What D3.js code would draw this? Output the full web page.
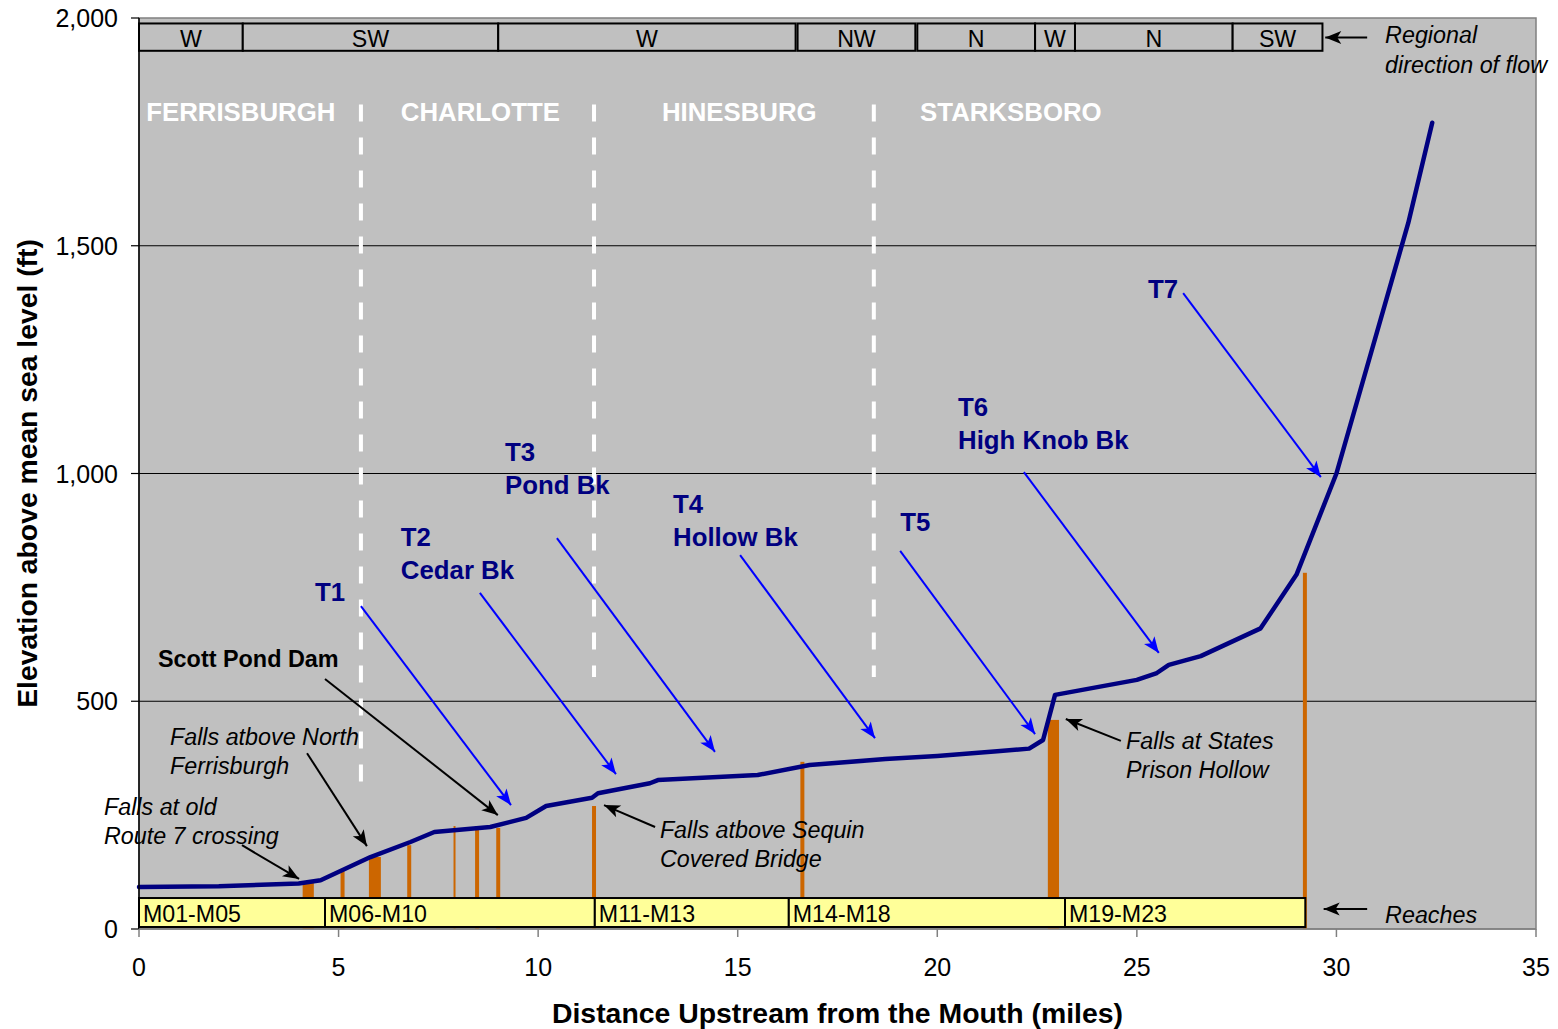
<!DOCTYPE html>
<html>
<head>
<meta charset="utf-8">
<script src="https://cdn.jsdelivr.net/npm/d3@7"></script>
<style>
  body { margin: 0; background: #fff; }
  svg text { font-family: "Liberation Sans", Arial, sans-serif; }
</style>
</head>
<body>
<svg id="chart" width="1558" height="1029"></svg>
<script>
// ---- Data -------------------------------------------------------------
const xTicks = [0, 5, 10, 15, 20, 25, 30, 35];
const yTicks = [0, 500, 1000, 1500, 2000];

// Main-stem longitudinal profile: distance upstream (mi) vs. elevation (ft)
const profileMiles = [0, 2.0, 4.0, 4.55, 5.8, 6.8, 7.4, 8.8, 9.7, 10.2, 11.35, 11.5, 12.8, 13.0,
  15.5, 16.8, 18.7, 20.0, 21.5, 22.3, 22.65, 22.95, 25.0, 25.5, 25.8, 26.6, 28.1, 29.0, 30.0, 31.8, 32.4];
const profileFeet = [92, 94, 100, 107, 158, 191, 213, 224, 244, 270, 288, 298, 320, 327,
  338, 360, 373, 380, 390, 396, 415, 514, 547, 562, 580, 599, 660, 778, 1000, 1550, 1770];

// Falls / grade controls: extent along the channel (mi) and crest elevation (ft)
const fallsFrom = [4.10, 5.05, 5.76, 6.72, 7.88, 8.42, 8.95, 11.35, 16.57, 22.77, 29.16];
const fallsTo   = [4.38, 5.15, 6.06, 6.82, 7.93, 8.52, 9.05, 11.45, 16.67, 23.05, 29.26];
const fallsFeet = [103, 127, 158, 184, 226, 226, 222, 270, 367, 459, 782];

// Reach groups along the river
const reachBreaks = [0, 4.66, 11.42, 16.28, 23.2, 29.22];
const reachNames = ["M01-M05", "M06-M10", "M11-M13", "M14-M18", "M19-M23"];

// Regional direction of flow
const flowFrom = [0, 2.6, 9.0, 16.5, 19.5, 22.45, 23.45, 27.4];
const flowTo   = [2.6, 9.0, 16.45, 19.45, 22.45, 23.45, 27.4, 29.65];
const flowDirs = ["W", "SW", "W", "NW", "N", "W", "N", "SW"];

// Towns and town lines (mi)
const townNames = ["FERRISBURGH", "CHARLOTTE", "HINESBURG", "STARKSBORO"];
const townLines = [5.56, 11.4, 18.41];

// ---- Layout -----------------------------------------------------------
const plot = { left: 139, right: 1536, top: 18, bottom: 929 };
const x = d3.scaleLinear().domain([0, 35]).range([plot.left, plot.right]);
const y = d3.scaleLinear().domain([0, 2000]).range([plot.bottom, plot.top]);

// annotation anchors in chart units [mi, ft]
const townLabelAt = [[0.18, 1774], [6.56, 1774], [13.1, 1774], [19.57, 1774]];
const townLineSpan = [[1810, 323], [1810, 553], [1810, 553]];
const flowBand = [1928, 1988];
const reachBand = [4.4, 68];

const tributaries = [
  { lines: ["T1"], at: [4.41, 720], from: [5.56, 709], to: [9.32, 272] },
  { lines: ["T2", "Cedar Bk"], at: [6.56, 841], from: [8.54, 738], to: [11.95, 340] },
  { lines: ["T3", "Pond Bk"], at: [9.17, 1027], from: [10.47, 858], to: [14.43, 389] },
  { lines: ["T4", "Hollow Bk"], at: [13.38, 913], from: [15.06, 821], to: [18.44, 419] },
  { lines: ["T5"], at: [19.07, 874], from: [19.07, 830], to: [22.45, 428] },
  { lines: ["T6", "High Knob Bk"], at: [20.52, 1126], from: [22.17, 1003], to: [25.55, 606] },
  { lines: ["T7"], at: [25.28, 1385], from: [26.16, 1396], to: [29.61, 992] }
];

const features = [
  { lines: ["Scott Pond Dam"], bold: true, at: [0.476, 575], from: [4.66, 549], to: [8.99, 250] },
  { lines: ["Falls atbove North", "Ferrisburgh"], at: [0.777, 404], from: [4.21, 386], to: [5.71, 182] },
  { lines: ["Falls at old", "Route 7 crossing"], at: [-0.877, 250], from: [2.58, 184], to: [4.01, 110] },
  { lines: ["Falls atbove Sequin", "Covered Bridge"], at: [13.05, 200], from: [12.93, 224], to: [11.65, 272] },
  { lines: ["Falls at States", "Prison Hollow"], at: [24.73, 395], from: [24.6, 413], to: [23.22, 461] }
];

const sideNotes = [
  { lines: ["Regional", "direction of flow"], at: [31.22, 1946], from: [30.77, 1957], to: [29.72, 1957] },
  { lines: ["Reaches"], at: [31.22, 13], from: [30.77, 44], to: [29.68, 44] }
];

// ---- Drawing ----------------------------------------------------------
const svg = d3.select("#chart");

const defs = svg.append("defs");
[["head-blue", "#0000FF"], ["head-black", "#000000"]].forEach(([id, c]) => {
  defs.append("marker")
    .attr("id", id)
    .attr("viewBox", "-17 -7 18 14")
    .attr("refX", 0).attr("refY", 0)
    .attr("markerWidth", 18).attr("markerHeight", 14)
    .attr("markerUnits", "userSpaceOnUse")
    .attr("orient", "auto")
    .append("path")
    .attr("d", "M0,0 L-16,-6.5 L-12,0 L-16,6.5 Z")
    .attr("fill", c);
});

// plot background
svg.append("rect")
  .attr("x", plot.left).attr("y", plot.top)
  .attr("width", plot.right - plot.left).attr("height", plot.bottom - plot.top)
  .attr("fill", "#C0C0C0").attr("stroke", "#808080").attr("stroke-width", 1.5);

// horizontal gridlines
svg.append("g").selectAll("line")
  .data(yTicks.filter(t => t > 0 && t < 2000))
  .join("line")
  .attr("x1", plot.left).attr("x2", plot.right)
  .attr("y1", d => y(d)).attr("y2", d => y(d))
  .attr("stroke", "#000").attr("stroke-width", 1.2);

// town boundaries (dashed white)
svg.append("g").selectAll("line")
  .data(townLines)
  .join("line")
  .attr("x1", d => x(d)).attr("x2", d => x(d))
  .attr("y1", (d, i) => y(townLineSpan[i][0]))
  .attr("y2", (d, i) => y(townLineSpan[i][1]))
  .attr("stroke", "#FFFFFF").attr("stroke-width", 4)
  .attr("stroke-dasharray", "17,16");

// town names
svg.append("g").selectAll("text")
  .data(townNames)
  .join("text")
  .attr("x", (d, i) => x(townLabelAt[i][0]))
  .attr("y", (d, i) => y(townLabelAt[i][1]))
  .attr("fill", "#FFFFFF").attr("font-weight", "bold").attr("font-size", 25.8)
  .text(d => d);

// falls bars
svg.append("g").selectAll("rect")
  .data(fallsFeet)
  .join("rect")
  .attr("x", (d, i) => x(fallsFrom[i]))
  .attr("width", (d, i) => x(fallsTo[i]) - x(fallsFrom[i]))
  .attr("y", d => y(d))
  .attr("height", d => y(0) - y(d))
  .attr("fill", "#CC6600");

// reach boxes
const reaches = svg.append("g");
reachNames.forEach((name, i) => {
  const x0 = x(reachBreaks[i]), x1 = x(reachBreaks[i + 1]);
  reaches.append("rect")
    .attr("x", x0).attr("y", y(reachBand[1]))
    .attr("width", x1 - x0).attr("height", y(reachBand[0]) - y(reachBand[1]))
    .attr("fill", "#FFFF99").attr("stroke", "#000").attr("stroke-width", 2);
  reaches.append("text")
    .attr("x", x0 + 4).attr("y", y(15))
    .attr("font-size", 23.2).attr("fill", "#000")
    .text(name);
});

// profile line
const line = d3.line().x(d => x(d[0])).y(d => y(d[1]));
svg.append("path")
  .datum(profileMiles.map((m, i) => [m, profileFeet[i]]))
  .attr("d", line)
  .attr("fill", "none").attr("stroke", "#000080").attr("stroke-width", 4.5)
  .attr("stroke-linejoin", "round").attr("stroke-linecap", "round");

// regional direction of flow boxes
const flow = svg.append("g");
flowDirs.forEach((dir, i) => {
  const x0 = x(flowFrom[i]), x1 = x(flowTo[i]);
  flow.append("rect")
    .attr("x", x0).attr("y", y(flowBand[1]))
    .attr("width", x1 - x0).attr("height", y(flowBand[0]) - y(flowBand[1]))
    .attr("fill", "#C0C0C0").attr("stroke", "#000").attr("stroke-width", 2);
  flow.append("text")
    .attr("x", (x0 + x1) / 2).attr("y", y(1936))
    .attr("text-anchor", "middle").attr("font-size", 23.2)
    .text(dir);
});

// annotation helper
function annotate(g, a, opts) {
  g.append("line")
    .attr("x1", x(a.from[0])).attr("y1", y(a.from[1]))
    .attr("x2", x(a.to[0])).attr("y2", y(a.to[1]))
    .attr("stroke", opts.color).attr("stroke-width", 2)
    .attr("marker-end", `url(#${opts.marker})`);
  const t = g.append("text")
    .attr("x", x(a.at[0])).attr("y", y(a.at[1]))
    .attr("fill", opts.textColor)
    .attr("font-size", a.bold ? 23.4 : opts.size)
    .attr("font-weight", (opts.bold || a.bold) ? "bold" : "normal")
    .attr("font-style", (opts.italic && !a.bold) ? "italic" : "normal");
  a.lines.forEach((s, k) => {
    t.append("tspan").attr("x", x(a.at[0])).attr("dy", k === 0 ? 0 : opts.lineGap).text(s);
  });
}

const notes = svg.append("g");
tributaries.forEach(a => annotate(notes, a,
  { color: "#0000FF", marker: "head-blue", textColor: "#000080", bold: true, size: 25.8, lineGap: 33 }));
features.forEach(a => annotate(notes, a,
  { color: "#000", marker: "head-black", textColor: "#000", italic: true, size: 23.3, lineGap: 29 }));
sideNotes.forEach(a => annotate(notes, a,
  { color: "#000", marker: "head-black", textColor: "#000", italic: true, size: 23.3, lineGap: 30 }));

// axes
const axes = svg.append("g");
// y axis
axes.append("line")
  .attr("x1", plot.left).attr("x2", plot.left)
  .attr("y1", plot.top).attr("y2", plot.bottom)
  .attr("stroke", "#000").attr("stroke-width", 1.5);
axes.append("g").selectAll("line")
  .data(yTicks).join("line")
  .attr("x1", plot.left - 8).attr("x2", plot.left)
  .attr("y1", d => y(d)).attr("y2", d => y(d))
  .attr("stroke", "#000").attr("stroke-width", 1.2);
axes.append("g").selectAll("text")
  .data(yTicks).join("text")
  .attr("x", plot.left - 21).attr("y", d => y(d) + 9)
  .attr("text-anchor", "end").attr("font-size", 25)
  .text(d => d3.format(",")(d));

// x axis
axes.append("line")
  .attr("x1", plot.left).attr("x2", plot.right)
  .attr("y1", plot.bottom).attr("y2", plot.bottom)
  .attr("stroke", "#808080").attr("stroke-width", 1.5);
axes.append("g").selectAll("line")
  .data(xTicks).join("line")
  .attr("x1", d => x(d)).attr("x2", d => x(d))
  .attr("y1", plot.bottom).attr("y2", plot.bottom + 8)
  .attr("stroke", "#808080").attr("stroke-width", 1.5);
axes.append("g").selectAll("text")
  .data(xTicks).join("text")
  .attr("x", d => x(d)).attr("y", plot.bottom + 47)
  .attr("text-anchor", "middle").attr("font-size", 25)
  .text(d => d);

// axis titles
svg.append("text")
  .attr("x", (plot.left + plot.right) / 2).attr("y", 1023)
  .attr("text-anchor", "middle").attr("font-size", 28.4).attr("font-weight", "bold")
  .text("Distance Upstream from the Mouth (miles)");
svg.append("text")
  .attr("transform", `translate(37, ${(plot.top + plot.bottom) / 2}) rotate(-90)`)
  .attr("text-anchor", "middle").attr("font-size", 28.3).attr("font-weight", "bold")
  .text("Elevation above mean sea level (ft)");
</script>
</body>
</html>
